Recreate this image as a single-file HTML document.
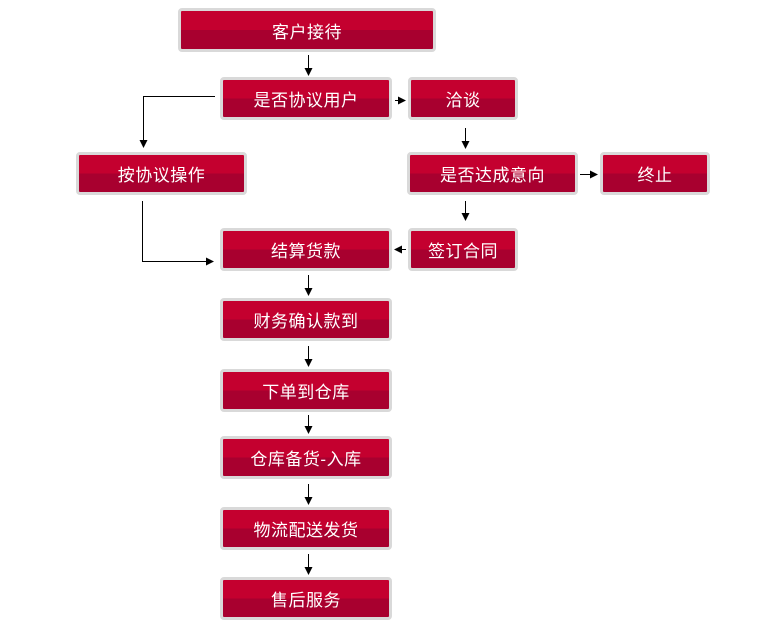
<!DOCTYPE html>
<html><head><meta charset="utf-8"><style>
body{margin:0;background:#fff;width:760px;height:632px;position:relative;overflow:hidden;font-family:"Liberation Sans","Noto Sans CJK SC",sans-serif}
.b{position:absolute;box-sizing:border-box;border:3px solid #d9d9d9;border-radius:4px;background:linear-gradient(#c4002f 0,#c4002f 50%,#a8002f 50%,#a8002f 100%);color:#fff;font-size:17px;display:flex;align-items:center;justify-content:center;letter-spacing:0.5px}
svg{position:absolute;left:0;top:0}
</style></head><body>
<div class="b" style="left:178px;top:8px;width:258px;height:44px">客户接待</div>
<div class="b" style="left:220px;top:77px;width:172px;height:43px">是否协议用户</div>
<div class="b" style="left:408px;top:77px;width:110px;height:43px">洽谈</div>
<div class="b" style="left:76px;top:152px;width:171px;height:43px">按协议操作</div>
<div class="b" style="left:407px;top:152px;width:171px;height:43px">是否达成意向</div>
<div class="b" style="left:600px;top:152px;width:110px;height:43px">终止</div>
<div class="b" style="left:220px;top:228px;width:172px;height:43px">结算货款</div>
<div class="b" style="left:408px;top:228px;width:110px;height:43px">签订合同</div>
<div class="b" style="left:220px;top:298px;width:172px;height:43px">财务确认款到</div>
<div class="b" style="left:220px;top:369px;width:172px;height:43px">下单到仓库</div>
<div class="b" style="left:220px;top:436px;width:172px;height:43px">仓库备货-入库</div>
<div class="b" style="left:220px;top:507px;width:172px;height:43px">物流配送发货</div>
<div class="b" style="left:220px;top:577px;width:172px;height:43px">售后服务</div>
<svg width="760" height="632">
<defs><marker id="a" markerWidth="8" markerHeight="8" refX="7" refY="4" orient="auto" markerUnits="userSpaceOnUse"><path d="M0,0 L8,4 L0,8z" fill="#000"/></marker></defs>
<g stroke="#000" stroke-width="1" fill="none" marker-end="url(#a)">
<path d="M308.5 55V75"/>
<path d="M215 96.5H143.5V147"/>
<path d="M142.5 201V261.5H213"/>
<path d="M395 100.5H405"/>
<path d="M465.5 128V148"/>
<path d="M580 174.5H597"/>
<path d="M465.5 201V220"/>
<path d="M406 249.5H395"/>
<path d="M308.5 275V295"/>
<path d="M308.5 346V366"/>
<path d="M308.5 415V433"/>
<path d="M308.5 484V504"/>
<path d="M308.5 554V574"/>
</g></svg>
</body></html>
